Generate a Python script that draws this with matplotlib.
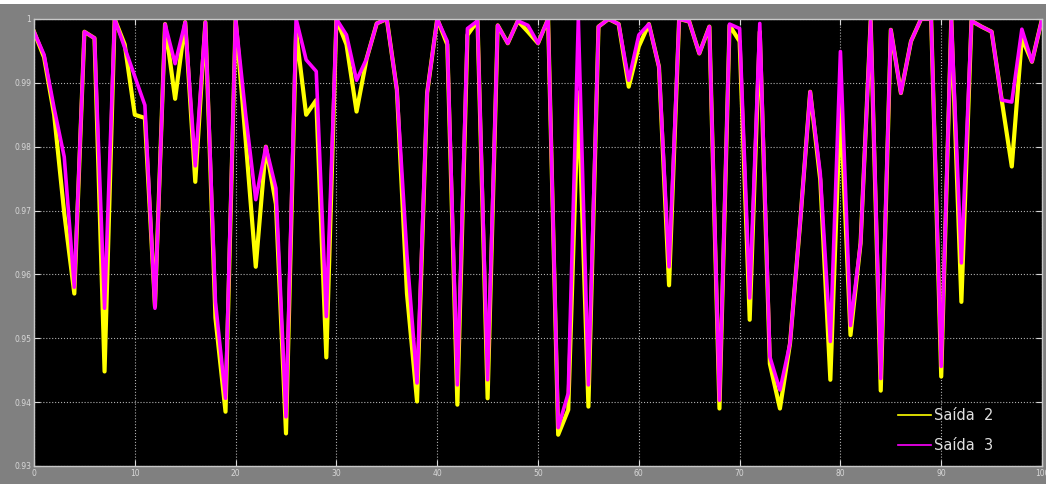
import matplotlib.pyplot as plt
from matplotlib.patches import Rectangle

# Saídas 2 e 3 ao longo de 101 amostras
amostras = list(range(101))
saida2 = [
    0.998, 0.994, 0.985, 0.9696, 0.957, 0.998, 0.997, 0.9448, 1.0, 0.996,
    0.985, 0.9845, 0.955, 0.9992, 0.9875, 0.9995, 0.9745, 0.9995, 0.9532, 0.9385,
    1.0, 0.981, 0.9612, 0.980, 0.971, 0.9351, 0.998, 0.985, 0.9873, 0.947,
    1.0, 0.996, 0.9855, 0.9938, 0.9993, 1.0, 0.9889, 0.957, 0.9401, 0.9884,
    1.0, 0.996, 0.9396, 0.9975, 0.9997, 0.9406, 0.999, 0.9962, 0.9997, 0.998,
    0.9962, 1.0, 0.9349, 0.9388, 0.9885, 0.9393, 0.9988, 1.0, 0.9992, 0.9894,
    0.9957, 0.9992, 0.9925, 0.9583, 1.0, 0.9996, 0.9946, 0.9988, 0.939, 0.999,
    0.9965, 0.9529, 0.998, 0.946, 0.939, 0.9492, 0.968, 0.9886, 0.9748, 0.9435,
    0.9868, 0.9505, 0.9649, 0.9997, 0.9418, 0.9983, 0.9884, 0.9965, 1.0, 1.0,
    0.944, 1.0, 0.9557, 0.9997, 0.9988, 0.998, 0.9873, 0.9769, 0.997, 0.9933,
    1.0,
]
saida3 = [
    0.998, 0.9944, 0.986, 0.9784, 0.958, 0.998, 0.997, 0.9547, 1.0, 0.9955,
    0.991, 0.9865, 0.9547, 0.9992, 0.993, 0.9995, 0.977, 0.9995, 0.9557, 0.9406,
    1.0, 0.985, 0.9717, 0.980, 0.9735, 0.9377, 1.0, 0.9936, 0.9918, 0.9534,
    1.0, 0.9975, 0.9904, 0.9938, 0.9993, 1.0, 0.9889, 0.963, 0.943, 0.9884,
    1.0, 0.9965, 0.9427, 0.9985, 0.9997, 0.9435, 0.999, 0.9962, 0.9997, 0.999,
    0.9962, 1.0, 0.936, 0.9414, 1.0, 0.9427, 0.9988, 1.0, 0.9992, 0.9904,
    0.9975, 0.9992, 0.9925, 0.9612, 1.0, 0.9996, 0.9946, 0.9988, 0.9403, 0.9992,
    0.9985, 0.9563, 0.9993, 0.9471, 0.9419, 0.9492, 0.968, 0.9886, 0.9758, 0.9495,
    0.9949, 0.952, 0.9649, 0.9997, 0.9437, 0.9983, 0.9884, 0.9965, 1.0, 1.0,
    0.9456, 1.0, 0.9618, 0.9997, 0.9988, 0.998, 0.9873, 0.987, 0.9984, 0.9933,
    1.0,
]
xticks = list(range(0, 101, 10))
yticks = [0.93, 0.94, 0.95, 0.96, 0.97, 0.98, 0.99, 1.0]
ylabels = ['0.93', '0.94', '0.95', '0.96', '0.97', '0.98', '0.99', '1']

fig = plt.figure(figsize=(10.46, 4.84), dpi=100, facecolor='#808080')
# faixa branca do topo
fig.add_artist(Rectangle((0, 0.991), 1, 0.009, transform=fig.transFigure,
                         facecolor='white', edgecolor='none', zorder=0))
ax = fig.add_axes([0.0325, 0.0372, 0.9637, 0.9236], facecolor='black')

ax.plot(amostras, saida2, color='#ffff00', linewidth=3.0, label='Saída  2')
ax.plot(amostras, saida3, color='#ff00ff', linewidth=2.6, label='Saída  3')

ax.set_xlim(0, 100)
ax.set_ylim(0.93, 1.0)
ax.set_xticks(xticks)
ax.set_yticks(yticks)
ax.set_yticklabels(ylabels)
ax.tick_params(colors='#d8d8d8', labelsize=5.5, direction='in', length=4,
               width=0.8, top=True, right=True, pad=2)
ax.grid(True, color='#b0b0b0', linestyle=':', linewidth=0.8)
for lado in ax.spines.values():
    lado.set_color('#c8c8c8')
    lado.set_linewidth(1.0)

leg = ax.legend(loc='lower right', frameon=False, fontsize=10.5,
                handlelength=2.3, labelspacing=1.0, handletextpad=0.2,
                bbox_to_anchor=(0.965, 0.0))
for txt in leg.get_texts():
    txt.set_color('#e0e0e0')
for linha in leg.get_lines():
    linha.set_linewidth(1.2)

fig.savefig('out.png', dpi=100, facecolor=fig.get_facecolor())
